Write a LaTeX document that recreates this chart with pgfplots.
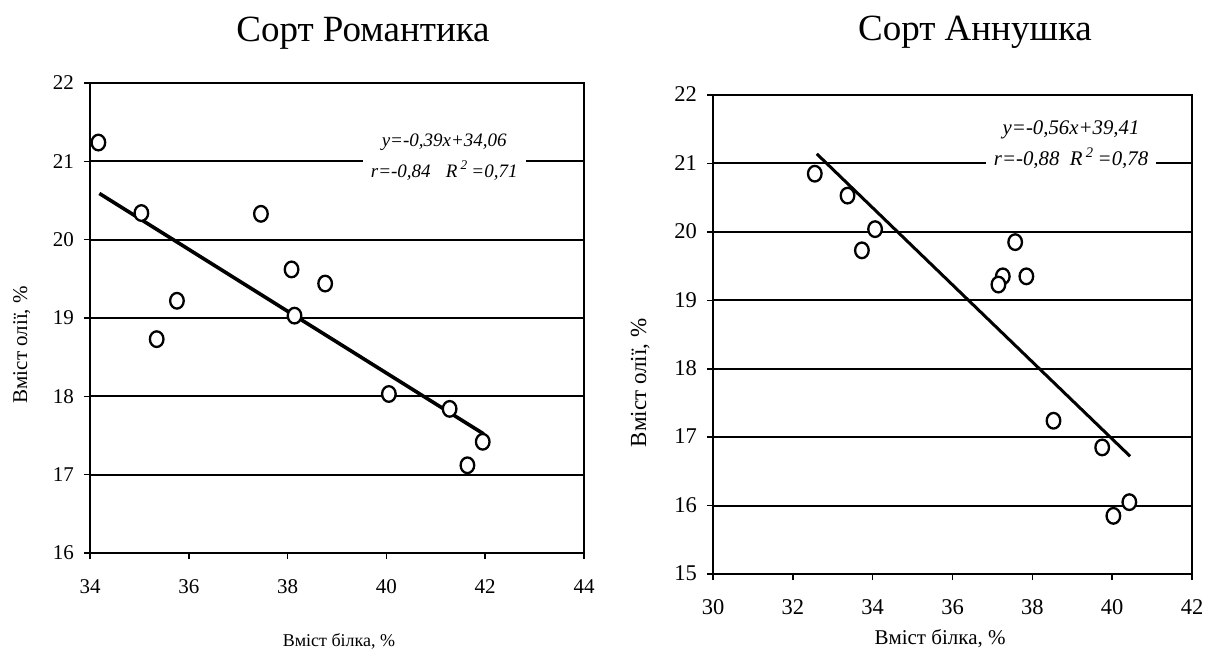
\documentclass[border=0pt]{standalone}
\usepackage{fontspec}
\setmainfont{Liberation Serif}
\usepackage{pgfplots}
\pgfplotsset{compat=1.18}

% Measurements: oil content vs protein content, two cultivars
\pgfplotstableread{
x y
34.17 21.24
35.04 20.34
35.35 18.73
35.76 19.22
37.46 20.33
38.08 19.62
38.14 19.03
38.76 19.44
40.05 18.03
41.28 17.84
41.64 17.12
41.95 17.42
}\romantika

\pgfplotstableread{
x y
32.55 20.85
33.37 20.53
34.06 20.04
33.73 19.73
37.57 19.85
37.26 19.35
37.15 19.23
37.85 19.35
38.53 17.24
39.75 16.85
40.43 16.05
40.03 15.85
}\annushka

\pgfplotsset{
  every axis title shift=0pt,
  corrplot/.style={
    scale only axis,
    axis line style={black, line width=0.9pt},
    tick align=outside,
    tick pos=left,
    major tick length=3pt,
    every tick/.style={black, line width=0.8pt},
    ymajorgrids,
    major grid style={black, line width=1pt},
    /pgf/number format/assume math mode=true,
    xticklabel style={yshift=-7pt, text height=0.68em, text depth=0pt},
    yticklabel style={xshift=-1.5pt, text height=0.68em, text depth=0pt},
    clip=false,
  },
  obs/.style={only marks, mark=*, mark size=3.4pt,
    mark options={fill=white, draw=black, line width=1.15pt, yscale=1.15}},
}

\begin{document}
\begin{tikzpicture}
\useasboundingbox (0,0) rectangle (604pt,327.5pt);

% Cultivar Romantika
\begin{axis}[corrplot,
  at={(45pt,51pt)}, anchor=south west,
  width=247pt, height=235pt,
  xmin=34, xmax=44, ymin=16, ymax=22,
  xtick={34,36,...,44}, ytick={16,17,...,22},
  ticklabel style={font=\fontsize{10.5}{12}\selectfont},
  title={Сорт Романтика},
  title style={at={(rel axis cs:0.5526,1.0879)}, anchor=base,
    font=\fontsize{18.5}{22}\selectfont},
  xlabel={Вміст білка, \%},
  xlabel style={at={(rel axis cs:0.504,-0.189)}, anchor=center,
    font=\fontsize{9}{11}\selectfont},
  ylabel={Вміст олії, \%},
  ylabel style={at={(rel axis cs:-0.138,0.443)}, anchor=center, rotate=0,
    font=\fontsize{10.5}{12}\selectfont},
]
\addplot[black, line width=1.8pt] coordinates {(34.19,20.59) (41.97,17.52)};
\addplot[obs] table[x=x, y=y] {\romantika};
\node[fill=white, inner xsep=4pt, inner ysep=1pt, align=center,
      font=\fontsize{9.5}{15.35}\selectfont\itshape]
  at (axis cs:41.17,21.05)
  {y=-0,39x+34,06\\ r=-0,84\hspace{0.8em}R\,\textsuperscript{2}\,=0,71};
\end{axis}

% Cultivar Annushka
\begin{axis}[corrplot,
  at={(356.5pt,40.5pt)}, anchor=south west,
  width=239.5pt, height=239.5pt,
  xmin=30, xmax=42, ymin=15, ymax=22,
  xtick={30,32,...,42}, ytick={15,16,...,22},
  ticklabel style={font=\fontsize{11.25}{13}\selectfont},
  title={Сорт Аннушка},
  title style={at={(rel axis cs:0.547,1.113)}, anchor=base,
    font=\fontsize{18.5}{22}\selectfont},
  xlabel={Вміст білка, \%},
  xlabel style={at={(rel axis cs:0.474,-0.134)}, anchor=center,
    font=\fontsize{10.5}{12}\selectfont},
  ylabel={Вміст олії, \%},
  ylabel style={at={(rel axis cs:-0.152,0.399)}, anchor=center, rotate=0,
    font=\fontsize{11.5}{13}\selectfont},
]
\addplot[black, line width=1.5pt] coordinates {(32.6,21.14) (40.45,16.72)};
\addplot[obs] table[x=x, y=y] {\annushka};
\node[fill=white, inner xsep=4pt, inner ysep=1pt, align=center,
      font=\fontsize{10.4}{15.5}\selectfont\itshape]
  at (axis cs:38.97,21.28)
  {y=-0,56x+39,41\\ r=-0,88\hspace{0.5em}R\,\textsuperscript{2}\,=0,78};
\end{axis}
\end{tikzpicture}
\end{document}
